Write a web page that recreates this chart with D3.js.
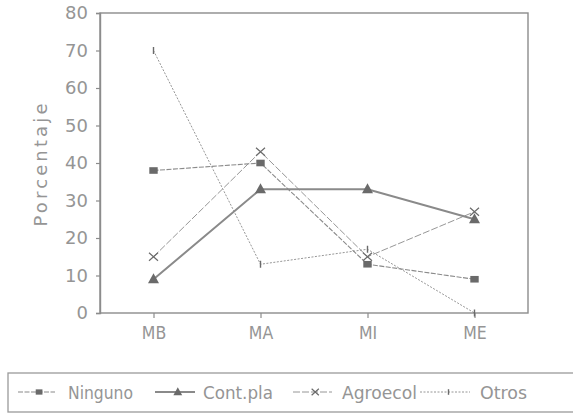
<!DOCTYPE html>
<html><head><meta charset="utf-8">
<script src="https://cdn.jsdelivr.net/npm/d3@7"></script>
<style>body{margin:0;background:#fff}svg{display:block}</style>
</head><body>
<svg id="c" width="573" height="415"></svg>
<script>
const categories = ["MB", "MA", "MI", "ME"];
const seriesNames = ["Ninguno", "Cont.pla", "Agroecol", "Otros"];
const ninguno  = [38, 40, 13, 9];
const contPla  = [9, 33, 33, 25];
const agroecol = [15, 43, 15, 27];
const otros    = [70, 13, 17, 0];
const yTicks = [0, 10, 20, 30, 40, 50, 60, 70, 80];
const yLabel = "Porcentaje";

const seriesValues = [ninguno, contPla, agroecol, otros];
const styles = [
  {marker: "square",   width: 1.1, dash: "5,1.5"},
  {marker: "triangle", width: 2,   dash: null},
  {marker: "cross",    width: 0.9, dash: "7,2"},
  {marker: "tick",     width: 0.9, dash: "2,1.5"}
];
const lineColor = "#8a8a8a", markColor = "#6a6a6a", textColor = "#959595";

const svg = d3.select("#c");
const L = 100, R = 528, T = 13, B = 313;
const x = d3.scalePoint().domain(categories).range([L, R]).padding(0.5);
const y = d3.scaleLinear().domain([0, 80]).range([B, T]);

// frame
svg.append("rect").attr("x", L).attr("y", T).attr("width", R - L).attr("height", B - T)
  .attr("fill", "none").attr("stroke", "#8c8c8c").attr("stroke-width", 1.4);

// y axis
const ya = svg.append("g").attr("transform", `translate(${L},0)`)
  .call(d3.axisLeft(y).tickValues(yTicks).tickSize(4).tickPadding(8).tickFormat(d3.format("d")));
ya.select(".domain").attr("stroke", "#8c8c8c").attr("stroke-width", 1.4);
ya.selectAll(".tick line").attr("stroke", "#8c8c8c").attr("stroke-width", 1.2);
ya.selectAll(".tick text").attr("fill", textColor).style("font-family", "DejaVu Sans").style("font-size", "18px");

// x axis
const xa = svg.append("g").attr("transform", `translate(0,${B})`)
  .call(d3.axisBottom(x).tickSize(5).tickPadding(9));
xa.select(".domain").remove();
xa.selectAll(".tick line").attr("stroke", "#8c8c8c").attr("stroke-width", 1.2);
xa.selectAll(".tick text").attr("fill", textColor).style("font-family", "DejaVu Sans Condensed").style("font-size", "17.5px");

// y label
svg.append("text").attr("transform", `translate(47,${(103 + 227) / 2}) rotate(-90)`)
  .attr("text-anchor", "middle").attr("fill", textColor)
  .attr("textLength", 123).attr("lengthAdjust", "spacing")
  .style("font-family", "DejaVu Sans").style("font-size", "18px").text(yLabel);

function drawMarker(g, type, cx, cy, s) {
  if (type === "square") {
    g.append("rect").attr("x", cx - 4.2 * s).attr("y", cy - 3.3 * s).attr("width", 8.4 * s).attr("height", 6.6 * s)
      .attr("fill", markColor);
  } else if (type === "triangle") {
    g.append("path").attr("d", `M${cx},${cy - 6 * s}L${cx + 5.5 * s},${cy + 4 * s}L${cx - 5.5 * s},${cy + 4 * s}Z`)
      .attr("fill", markColor);
  } else if (type === "cross") {
    g.append("path").attr("d", `M${cx - 4.5 * s},${cy - 4 * s}L${cx + 4.5 * s},${cy + 4 * s}M${cx - 4.5 * s},${cy + 4 * s}L${cx + 4.5 * s},${cy - 4 * s}`)
      .attr("stroke", markColor).attr("stroke-width", 1.2).attr("fill", "none");
  } else {
    g.append("path").attr("d", `M${cx},${cy - 3.5 * s}L${cx},${cy + 3.5 * s}`)
      .attr("stroke", markColor).attr("stroke-width", 1.4);
  }
}

const line = d3.line().x((d, i) => x(categories[i])).y(d => y(d));
seriesValues.forEach((vals, k) => {
  const st = styles[k];
  const g = svg.append("g");
  g.append("path").attr("d", line(vals)).attr("fill", "none").attr("stroke", lineColor)
    .attr("stroke-width", st.width).attr("stroke-dasharray", st.dash);
  vals.forEach((v, i) => drawMarker(g, st.marker, x(categories[i]), y(v), 1));
});

// legend
svg.append("rect").attr("x", 8).attr("y", 373).attr("width", 600).attr("height", 39)
  .attr("fill", "none").attr("stroke", "#9a9a9a").attr("stroke-width", 1.3);
const legX = [18, 155, 293, 420];
const legW = [37, 40, 39, 50];
const legTextX = [68, 203, 342, 480];
const legText = [65, 70, 75, 47];
const ly = 392;
seriesNames.forEach((name, k) => {
  const st = styles[k];
  const g = svg.append("g");
  g.append("line").attr("x1", legX[k]).attr("x2", legX[k] + legW[k]).attr("y1", ly).attr("y2", ly)
    .attr("stroke", lineColor).attr("stroke-width", st.width).attr("stroke-dasharray", st.dash);
  drawMarker(g, st.marker, legX[k] + legW[k] * 0.57, ly, 0.8);
  g.append("text").attr("x", legTextX[k]).attr("y", ly + 6.5).attr("fill", textColor)
    .attr("textLength", legText[k]).attr("lengthAdjust", "spacingAndGlyphs")
    .style("font-family", "DejaVu Sans Condensed").style("font-size", "17px").text(name);
});
</script>
</body></html>
